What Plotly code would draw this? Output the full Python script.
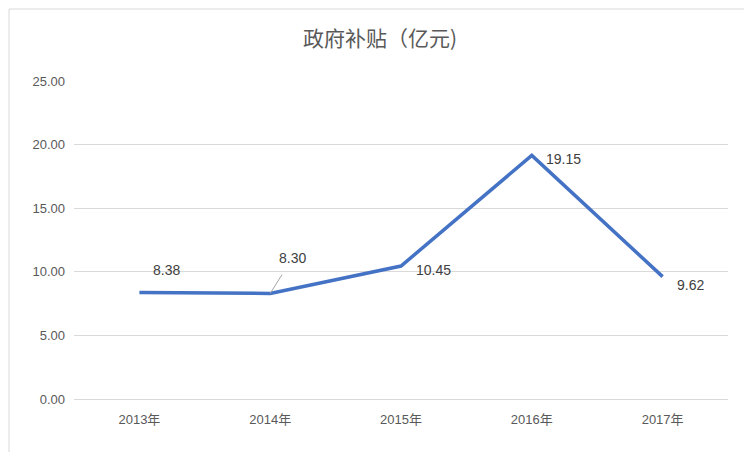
import plotly.graph_objects as go

# =========================
# DATA
# =========================
years = ["2013年", "2014年", "2015年", "2016年", "2017年"]
subsidy = [8.38, 8.30, 10.45, 19.15, 9.62]
label_offsets = [(27, -22), (22, -35), (32, 4), (32, 4), (28, 8)]  # px offsets for data labels

# page has an 8px body margin, so the figure is a bit smaller and shifted
W, H = 744, 444
ml, mr, mt, mb = 66, 24, 73, 53
pw, ph = W - ml - mr, H - mt - mb

fig = go.Figure()
fig.add_trace(go.Scatter(
    x=years, y=subsidy, mode="lines",
    line=dict(color="#4472C4", width=3.5),
    hoverinfo="skip", showlegend=False,
))

for i, (yr, v) in enumerate(zip(years, subsidy)):
    ax, ay = label_offsets[i]
    if i == 1:
        fig.add_annotation(
            x=yr, y=v, text=f"{v:.2f}", ax=ax, ay=ay,
            showarrow=True, arrowhead=0, arrowcolor="#a6a6a6", arrowwidth=1,
            standoff=0, startstandoff=8,
            font=dict(size=14, color="#404040"),
        )
    else:
        fig.add_annotation(
            x=yr, y=v, text=f"{v:.2f}", xshift=ax, yshift=-ay,
            showarrow=False, font=dict(size=14, color="#404040"),
        )

# border around chart area
fig.add_shape(type="rect", xref="paper", yref="paper",
              x0=-(ml - 1) / pw, x1=1 + (mr + 7) / pw,
              y0=-(mb + 7) / ph, y1=1 + (mt - 1) / ph,
              line=dict(color="#d9d9d9", width=1))

fig.update_layout(
    width=W, height=H,
    margin=dict(l=ml, r=mr, t=mt, b=mb),
    paper_bgcolor="white", plot_bgcolor="white",
    font=dict(family="Liberation Sans, Noto Sans CJK SC", color="#595959"),
    title=dict(text="政府补贴（亿元)", x=0.5, xanchor="center", y=0.93, yanchor="middle",
               font=dict(size=21, color="#595959", family="Noto Sans CJK SC")),
    xaxis=dict(showgrid=False, showline=True, linecolor="#d9d9d9",
               range=[-0.5, 4.5], ticks="", ticklabelstandoff=8,
               tickfont=dict(size=13, color="#595959")),
    yaxis=dict(range=[0, 25], dtick=5, tickformat=".2f", showgrid=True,
               gridcolor="#d9d9d9", zeroline=False, showline=False,
               tickfont=dict(size=13, color="#595959"), ticklabelstandoff=8),
)

fig.write_html("out.html")
